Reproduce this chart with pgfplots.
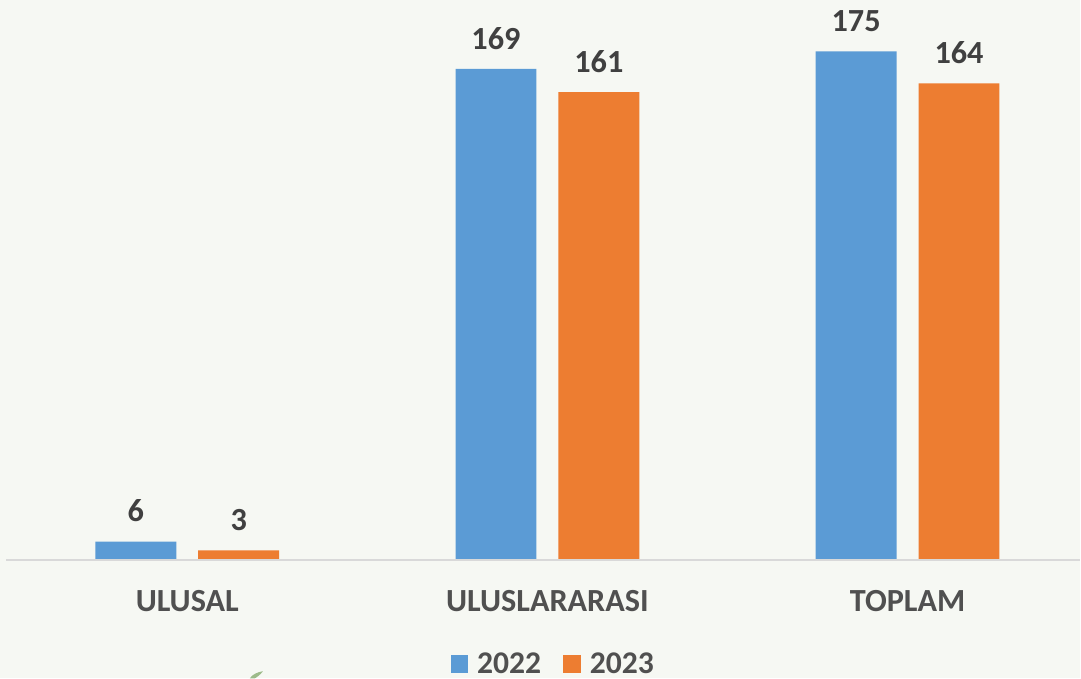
\documentclass[border=0pt]{standalone}
\usepackage{pgfplots}
\pgfplotsset{compat=1.18}
\usepackage{fontspec}
\setmainfont{Carlito}
\definecolor{bgc}{HTML}{F6F8F3}
\definecolor{blu}{HTML}{5B9BD5}
\definecolor{ora}{HTML}{ED7D31}
\definecolor{txt}{HTML}{404040}
\definecolor{lab}{HTML}{505050}
\definecolor{leaf}{HTML}{9DBB8A}
\newcommand{\labfont}{\bfseries\fontsize{24.2}{28}\selectfont}
\begin{document}
\begin{tikzpicture}[x=1pt,y=1pt]
\fill[bgc] (0,0) rectangle (810.75,509.25);
\begin{axis}[
  at={(0pt,0pt)},anchor=south west,
  scale only axis,
  width=810.75pt,height=509.25pt,
  xmin=-0.5200,xmax=2.4786,
  ymin=-41.15,ymax=192.75,
  axis y line=none,
  axis x line=none,
  clip=false,
  ybar,
  bar width=60.75pt,
  bar shift=0pt,
  xtick=\empty,
  /pgf/number format/assume math mode=true,
  nodes near coords,
  every node near coord/.append style={font=\labfont,text=txt,anchor=south,yshift=11.2pt},
  legend columns=2,
  legend style={at={(rel axis cs:0.5125,0.0215)},anchor=center,draw=none,fill=none,
    font=\bfseries\fontsize{23.7}{24}\selectfont,text=lab,
    /tikz/every odd column/.append style={column sep=4.5pt},
    /tikz/every even column/.append style={column sep=14.5pt},
    inner sep=0pt,outer sep=0pt},
  legend image code/.code={\fill[#1] (0pt,-6.75pt) rectangle (13.5pt,6.75pt);},
]
\addplot[draw=none,fill=blu] table {
x y
-0.1428 6
0.8572 169
1.8572 175
};
\addlegendentry{2022}
\addplot[draw=none,fill=ora] table {
x y
0.1428 3
1.1428 161
2.1428 164
};
\addlegendentry{2023}
\draw[color=black!15,line width=1.6pt] (rel axis cs:0.0056,0.174) -- (rel axis cs:1,0.174);
\node[font=\labfont,text=lab] at (axis cs:0,-14.6) {ULUSAL};
\node[font=\labfont,text=lab] at (axis cs:1,-14.6) {ULUSLARARASI};
\node[font=\labfont,text=lab] at (axis cs:2,-14.6) {TOPLAM};
\fill[leaf] (rel axis cs:0.2313,0) .. controls (rel axis cs:0.234,0.006) and (rel axis cs:0.238,0.009) .. (rel axis cs:0.2435,0.0105) .. controls (rel axis cs:0.241,0.005) and (rel axis cs:0.238,0.002) .. (rel axis cs:0.236,0) -- cycle;
\end{axis}
\end{tikzpicture}
\end{document}
